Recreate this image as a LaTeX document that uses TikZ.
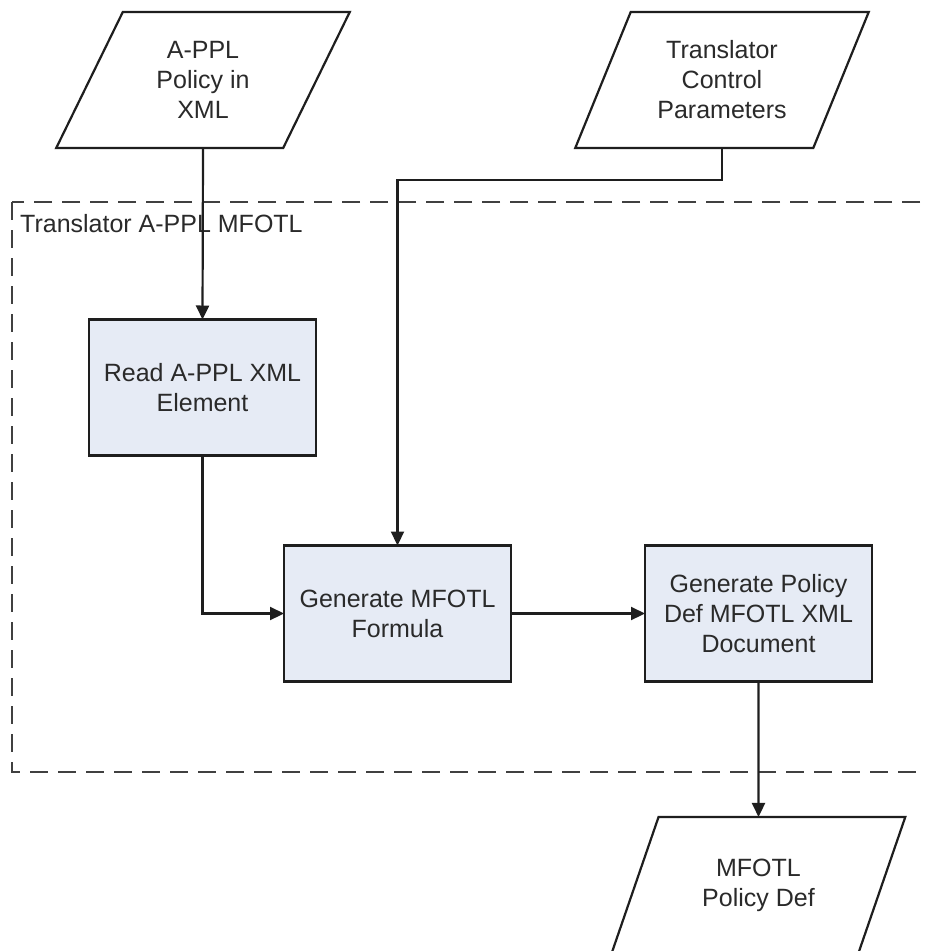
\documentclass[tikz,border=0pt]{standalone}
\usepackage{fontspec}
\setmainfont{Liberation Sans}
\usetikzlibrary{arrows.meta,shapes.geometric}

\definecolor{boxfill}{HTML}{E6EBF5}
\definecolor{ink}{HTML}{1E1E1E}
\definecolor{txt}{HTML}{2A2A2A}

\tikzset{
  every node/.style={font=\fontsize{25}{30}\selectfont, text=txt, align=center},
  iobox/.style={trapezium, draw=ink, line width=2.2pt, fill=white,
    trapezium left angle=63.4, trapezium right angle=116.6,
    trapezium stretches=true, minimum width=294pt, minimum height=136pt,
    inner sep=0pt, outer sep=0pt},
  procbox/.style={rectangle, draw=ink, line width=2.4pt, fill=boxfill,
    minimum width=227pt, minimum height=136pt, inner sep=0pt, outer sep=0pt},
  flow/.style={draw=ink, line width=2.2pt, -{Triangle[length=14pt,width=13pt]}},
  frame/.style={draw=ink!85, line width=2.8pt, dash pattern=on 18pt off 10pt}
}

\begin{document}
\begin{tikzpicture}[x=1pt, y=-1pt]
  \useasboundingbox (0,0) rectangle (925,951);
  \clip (0,0) rectangle (925,951);

  % translator boundary
  \draw[frame] (12,202) rectangle (960,772);
  \node[anchor=base west, inner sep=0pt] (frametitle) at (20,232) {Translator A-PPL MFOTL};

  % inputs and output
  \node[iobox] (policyin) at (203,80) {A-PPL\\Policy in\\XML};
  \node[iobox] (params) at (722,80) {Translator\\Control\\Parameters};
  \node[iobox] (policyout) at (758.5,885) {MFOTL\\Policy Def};

  % processing steps
  \node[procbox] (read) at (202.5,387.5) {Read A-PPL XML\\Element};
  \node[procbox] (generate) at (397.5,613.5) {Generate MFOTL\\Formula};
  \node[procbox] (document) at (758.5,613.5) {Generate Policy\\Def MFOTL XML\\Document};

  % connectors
  \draw[flow] (policyin.south) -- (read.north);
  \draw[flow] (params.south) -- ++(0,32) -| (generate.north);
  \draw[flow] (read.south) |- (generate.west);
  \draw[flow] (generate.east) -- (document.west);
  \draw[flow] (document.south) -- (policyout.north);
\end{tikzpicture}
\end{document}
